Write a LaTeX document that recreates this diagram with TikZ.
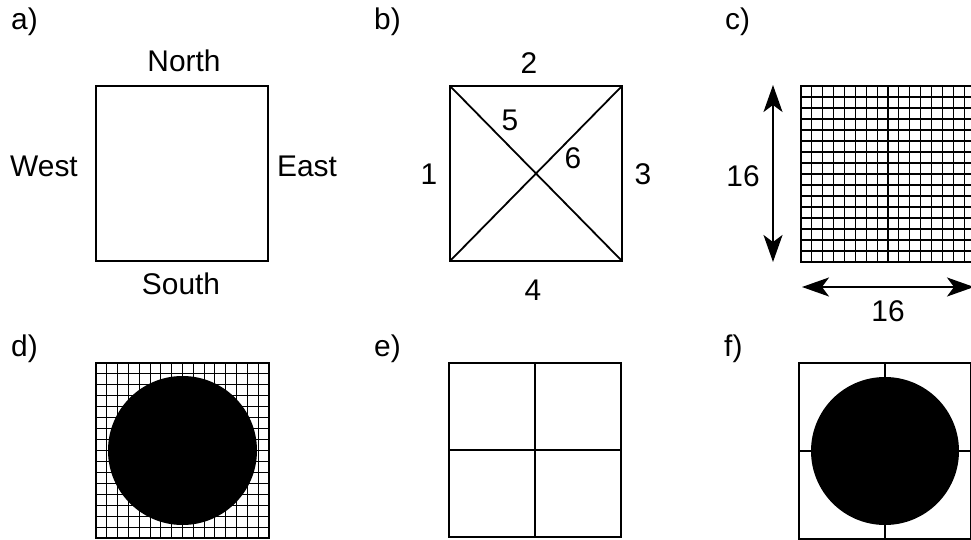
\documentclass[tikz,border=0pt]{standalone}
\usepackage{fontspec}
\setmainfont{Liberation Sans}
\usetikzlibrary{arrows.meta,calc}
\begin{document}
\begin{tikzpicture}[x=1bp,y=-1bp,
  sq/.style={draw, line width=1.8bp, minimum width=172bp, minimum height=174bp, inner sep=0pt, outer sep=0pt},
  gridline/.style={line width=1.1bp},
  thick2/.style={line width=1.8bp},
  txt/.style={font=\fontsize{30}{33}\selectfont, inner sep=0pt, anchor=base},
  lab/.style={font=\fontsize{30}{33}\selectfont, inner sep=0pt, anchor=base west},
  dimarrow/.style={line width=1.8bp, {Stealth[length=27bp,width=19bp,inset=7bp]}-{Stealth[length=27bp,width=19bp,inset=7bp]}}
]
\useasboundingbox (0,0) rectangle (971,540);
\fill[white] (0,0) rectangle (971,540);
\clip (0,0) rectangle (971,540);

% panel labels
\node[lab] (la) at (11,30) {a)};
\node[lab] (lb) at (374,30) {b)};
\node[lab] (lc) at (725,30) {c)};
\node[lab] (ld) at (11,357) {d)};
\node[lab] (le) at (374,357) {e)};
\node[lab] (lf) at (724,357) {f)};

% a)
\node[sq, minimum height=175bp] (a) at (182,173.5) {};
\node[txt] (north) at (184,72) {North};
\node[txt] (west) at (44,177) {West};
\node[txt] (east) at (307,177) {East};
\node[txt] (south) at (181,295) {South};

% b)
\node[sq, minimum height=175bp] (b) at (536,173.5) {};
\draw[thick2] (b.north west) -- (b.south east);
\draw[thick2] (b.south west) -- (b.north east);
\node[txt] (b2) at (529,74) {2};
\node[txt] (b1) at (429,185) {1};
\node[txt] (b3) at (643,185) {3};
\node[txt] (b4) at (533,301) {4};
\node[txt] (b5) at (510,131) {5};
\node[txt] (b6) at (573,169) {6};

% c)
\node[sq, minimum width=174bp, minimum height=176bp] (c) at (888,174) {};
\foreach \i in {1,...,15} {
  \draw[gridline] ($(c.north west)!\i/16!(c.north east)$) -- ($(c.south west)!\i/16!(c.south east)$);
  \draw[gridline] ($(c.north west)!\i/16!(c.south west)$) -- ($(c.north east)!\i/16!(c.south east)$);
}
\coordinate (vt) at (773,85);
\coordinate (vb) at (773,262);
\draw[dimarrow] (vt) -- (vb);
\coordinate (hl) at (802,287);
\coordinate (hr) at (974,287);
\draw[dimarrow] (hl) -- (hr);
\node[txt] (c16a) at (743,187) {16};
\node[txt] (c16b) at (888,322) {16};

% d)
\node[sq, minimum width=173bp, minimum height=175bp] (d) at (182.5,450.5) {};
\foreach \i in {1,...,15} {
  \draw[gridline] ($(d.north west)!\i/16!(d.north east)$) -- ($(d.south west)!\i/16!(d.south east)$);
  \draw[gridline] ($(d.north west)!\i/16!(d.south west)$) -- ($(d.north east)!\i/16!(d.south east)$);
}
\fill (d.center) circle[radius=74.5];
\draw[line width=1.8bp] (d.north west) rectangle (d.south east);

% e)
\node[sq] (e) at (535,450) {};
\draw[thick2] (e.north) -- (e.south);
\draw[thick2] (e.west) -- (e.east);

% f)
\node[sq, minimum height=176bp] (f) at (885,451) {};
\draw[thick2] (f.north) -- (f.south);
\draw[thick2] (f.west) -- (f.east);
\fill (f.center) circle[radius=74];
\end{tikzpicture}
\end{document}
